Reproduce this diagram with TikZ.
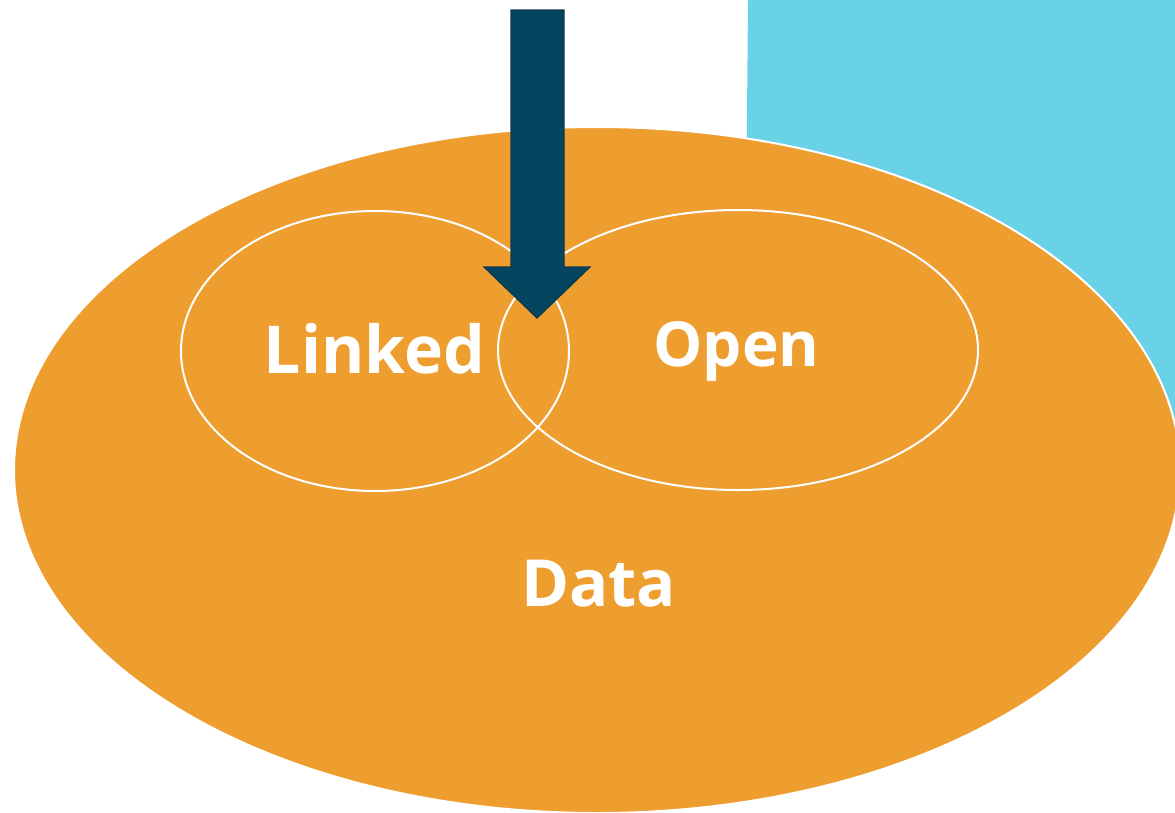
\documentclass[tikz,border=0pt]{standalone}
\usepackage{fontspec}
\setmainfont{Open Sans}
\usetikzlibrary{shapes.geometric}
\definecolor{orangeD}{HTML}{EE9D2F}
\definecolor{skyB}{HTML}{69D2E7}
\definecolor{arrowF}{HTML}{03455F}
\definecolor{arrowE}{HTML}{0B3A4E}
\tikzset{
  lbl/.style={text=white,bfseries/.try,font=\bfseries,inner sep=0pt,anchor=base},
  subset/.style={ellipse,draw=white,line width=2pt,inner sep=0pt}
}
\begin{document}
\begin{tikzpicture}[x=1pt,y=-1pt]
\useasboundingbox (0,0) rectangle (1175,812);
\fill[white] (0,0) rectangle (1175,812);
% blue panel
\fill[skyB] (748,0) -- (1175,0) -- (1175,470) -- (744,470) -- cycle;
% big data ellipse
\node[ellipse,fill=orangeD,draw=white,line width=2pt,minimum width=1166pt,minimum height=686pt,inner sep=0pt] (data) at (597,470) {};
% subsets
\node[subset,minimum width=388pt,minimum height=280pt] (linked) at (375,351) {};
\node[subset,minimum width=480pt,minimum height=280pt] (open) at (738,350) {};
% labels
\node[lbl,font=\fontsize{66}{70}\selectfont\bfseries] (tlinked) at (374.5,373) {Linked};
\node[lbl,font=\fontsize{62}{66}\selectfont\bfseries] (topen) at (736.5,366) {Open};
\node[lbl,font=\fontsize{65}{70}\selectfont\bfseries] (tdata) at (598.5,606) {Data};
% arrow
\coordinate (tip) at (537,318);
\draw[fill=arrowF,draw=arrowE,line width=1.2pt,line join=miter]
  (511,10) -- (564,10) -- (564,267) -- (590,267) -- (tip) -- (484,267) -- (511,267) -- cycle;
\end{tikzpicture}
\end{document}
